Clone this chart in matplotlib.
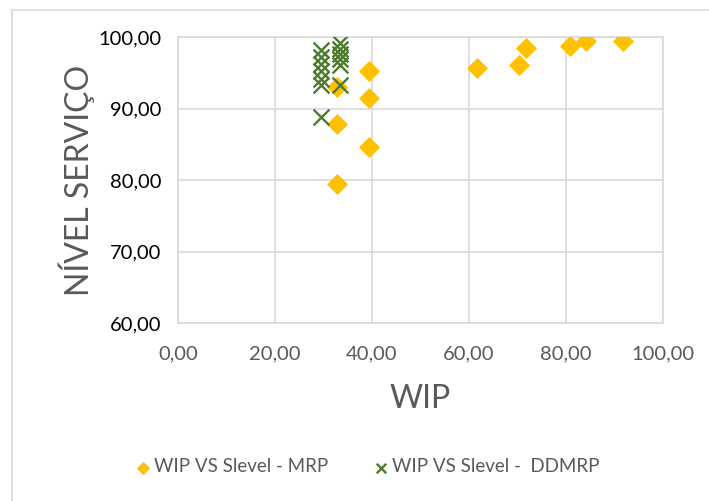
import matplotlib.pyplot as plt
from matplotlib.lines import Line2D

# WIP vs service level, MRP runs
mrp_wip = [32.8, 32.8, 32.8, 39.4, 39.4, 39.4, 61.6, 70.3, 71.8, 80.8, 84.1, 91.8]
mrp_level = [79.5, 87.8, 93.0, 84.6, 91.4, 95.2, 95.7, 96.1, 98.4, 98.7, 99.4, 99.4]

# WIP vs service level, DDMRP runs
ddmrp_wip = [29.4, 29.4, 29.4, 29.4, 29.4, 29.4, 29.4,
             33.5, 33.5, 33.5, 33.5, 33.5, 33.5]
ddmrp_level = [98.2, 97.2, 96.2, 95.2, 94.1, 93.3, 88.8,
               99.2, 98.3, 97.6, 96.9, 96.1, 93.3]

x_ticks = [0, 20, 40, 60, 80, 100]
y_ticks = [60, 70, 80, 90, 100]

GRID = "#d9d9d9"
TEXT = "#595959"

plt.rcParams["font.family"] = ["Lato", "DejaVu Sans"]

fig = plt.figure(figsize=(7.09, 5.01), dpi=100)
ax = fig.add_axes([178 / 709, 1 - 323 / 501, (663 - 178) / 709, (323 - 37) / 501])

# outer chart frame (only left and top edges visible)
fig.add_artist(Line2D([12 / 709, 12 / 709], [0, 1 - 10 / 501], color=GRID, lw=1.2,
                      transform=fig.transFigure))
fig.add_artist(Line2D([12 / 709, 1], [1 - 10 / 501, 1 - 10 / 501], color=GRID, lw=1.2,
                      transform=fig.transFigure))

ax.scatter(mrp_wip, mrp_level, marker="D", s=95, color="#ffc000", zorder=3,
           label="WIP VS Slevel - MRP")
ax.scatter(ddmrp_wip, ddmrp_level, marker="x", s=130, color="#4e7a2e", linewidths=1.7,
           zorder=4, label="WIP VS Slevel -  DDMRP")

ax.set_xlim(0, 100)
ax.set_ylim(60, 100)
ax.set_xticks(x_ticks)
ax.set_yticks(y_ticks)
ax.set_xticklabels([f"{v:.2f}".replace(".", ",") for v in x_ticks], color=TEXT, fontsize=14.5)
ax.set_yticklabels([f"{v:.2f}".replace(".", ",") for v in y_ticks], color="black", fontsize=14.5)
ax.tick_params(axis="y", length=0, pad=12)
ax.tick_params(axis="x", length=0, pad=16)

ax.grid(True, color=GRID, lw=1.2)
ax.set_axisbelow(True)
for sp in ax.spines.values():
    sp.set_color(GRID)
    sp.set_linewidth(1.2)

ax.set_xlabel("WIP", color=TEXT, fontsize=23, labelpad=16)
ax.set_ylabel("NÍVEL SERVIÇO", color=TEXT, fontsize=23, labelpad=2)

fig.legend(loc="center", bbox_to_anchor=(366 / 709, 1 - 467 / 501), ncol=2, frameon=False,
           fontsize=13.5, labelcolor=TEXT, handletextpad=0.0, columnspacing=2.2,
           markerscale=0.6, handlelength=1.2)

fig.savefig("out.png", dpi=100)
